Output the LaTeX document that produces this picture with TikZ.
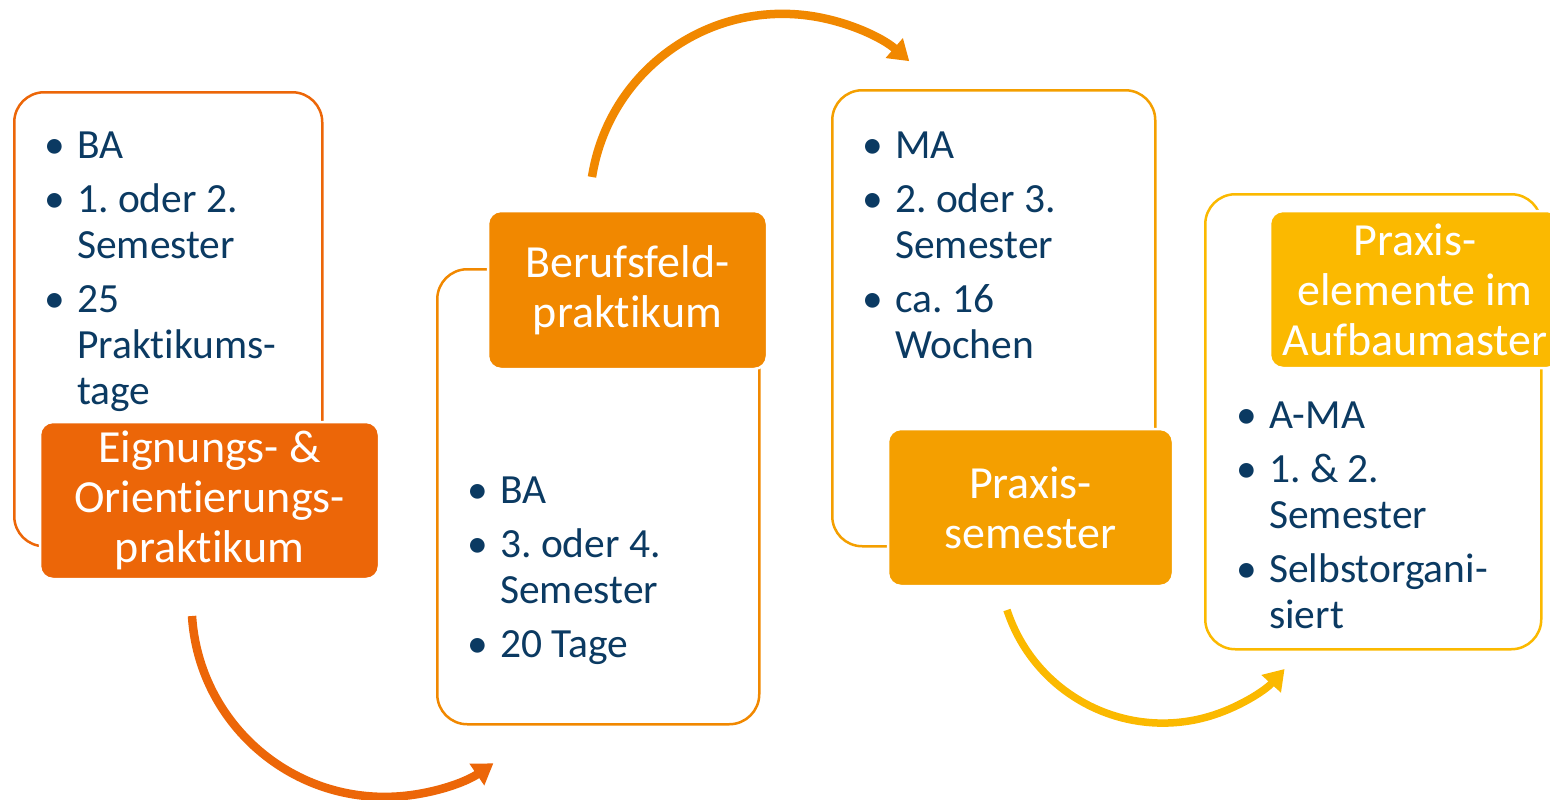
\documentclass[tikz,border=0pt]{standalone}
\usepackage{fontspec}
\setmainfont{Carlito}[Ligatures=NoCommon]
\usetikzlibrary{arrows.meta}
\frenchspacing

\definecolor{ink}{HTML}{0B3A62}
\definecolor{orA}{HTML}{EC6608}
\definecolor{orB}{HTML}{F18800}
\definecolor{orC}{HTML}{F49F00}
\definecolor{orD}{HTML}{FBB900}

% bullet item helpers
\newcommand\bul{\makebox[34pt][l]{\makebox[24pt]{•}}}
\newcommand\ind{\hspace*{34pt}}
\newcommand\itemgap{\\[8pt]}
\newcommand\bullist[1]{\parbox[t]{330pt}{\fontsize{41.5}{46}\selectfont #1}}

\tikzset{
  frame/.style={draw=#1, line width=2.5pt, fill=white, rounded corners=30pt,
                inner sep=0, anchor=north west},
  head/.style={fill=#1, draw=white, line width=2.5pt, rounded corners=13pt,
               text=white, font=\fontsize{46}{50}\selectfont, align=center,
               inner sep=0},
  list/.style={anchor=base west, inner sep=0, text=ink},
  flow/.style={draw=#1, line width=8.5pt, -{Triangle[length=20pt,width=25pt]}},
}

\begin{document}
\begin{tikzpicture}[x=1pt, y=-1pt]
  \useasboundingbox (0,0) rectangle (1550,800);
  \clip (0,0) rectangle (1550,800);

  % outlined frames
  \node[frame=orA, minimum width=308pt, minimum height=454pt] (f1) at (13,91) {};
  \node[frame=orB, minimum width=322pt, minimum height=455pt] (f2) at (436,268) {};
  \node[frame=orC, minimum width=323pt, minimum height=456pt] (f3) at (831,89) {};
  \node[frame=orD, minimum width=336pt, minimum height=455pt] (f4) at (1204,193) {};

  % bullet lists
  \node[list] (l1) at (43,158) {\bullist{%
      \bul BA\itemgap
      \bul 1. oder 2.\\
      \ind Semester\itemgap
      \bul 25\\
      \ind Praktikums-\\
      \ind tage}};
  \node[list] (l2) at (466,503) {\bullist{%
      \bul BA\itemgap
      \bul 3. oder 4.\\
      \ind Semester\itemgap
      \bul 20 Tage}};
  \node[list] (l3) at (861,158) {\bullist{%
      \bul MA\itemgap
      \bul 2. oder 3.\\
      \ind Semester\itemgap
      \bul ca. 16\\
      \ind Wochen}};
  \node[list] (l4) at (1235,428) {\bullist{%
      \bul A-MA\itemgap
      \bul 1. \& 2.\\
      \ind Semester\itemgap
      \bul Selbstorgani-\\
      \ind siert}};

  % coloured headings
  \node[head=orA, minimum width=339pt, minimum height=157pt] (t1) at (209.5,500.5)
      {Eignungs- \&\\Orientierungs-\\praktikum};
  \node[head=orB, minimum width=279pt, minimum height=158pt] (t2) at (627.5,290)
      {Berufsfeld-\\praktikum};
  \node[head=orC, minimum width=285pt, minimum height=157pt] (t3) at (1030.5,507.5)
      {Praxis-\\semester};
  \node[head=orD, minimum width=290pt, minimum height=157pt] (t4) at (1415,289.5)
      {Praxis-\\elemente im\\Aufbaumaster};

  % curved arrows between the stages
  \coordinate (a1) at (192,616);
  \coordinate (a2) at (592,177);
  \coordinate (a3) at (1007,610);
  \draw[flow=orA] (a1) arc[start angle=176.4, end angle=55.7, radius=193];
  \draw[flow=orB] (a2) arc[start angle=-171.1, end angle=-49, radius=193];
  \draw[flow=orD, line width=7.5pt] (a3) arc[start angle=161.9, end angle=42.1, radius=164];
\end{tikzpicture}
\end{document}
